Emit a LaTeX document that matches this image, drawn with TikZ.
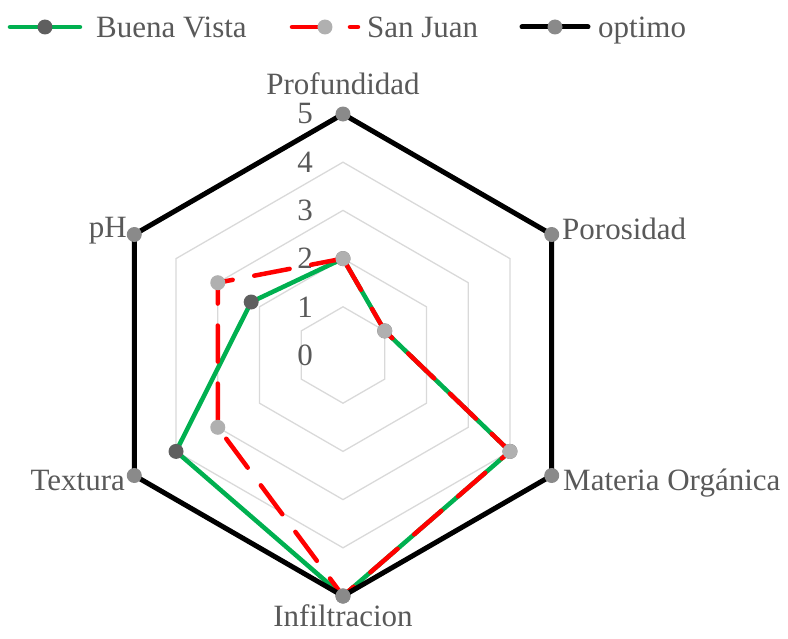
\documentclass[tikz,border=0pt]{standalone}
\usepackage{fontspec}
\setmainfont{Liberation Serif}
\usepackage{xcolor}
\usepackage{tikz}

\definecolor{bvgreen}{HTML}{00B050}
\definecolor{sjred}{HTML}{FF0000}
\definecolor{txtgray}{HTML}{595959}
\definecolor{gridgray}{HTML}{D9D9D9}
\definecolor{bvmark}{HTML}{5F5F5F}
\definecolor{sjmark}{HTML}{B0B0B0}
\definecolor{opmark}{HTML}{8A8A8A}

\begin{document}
\begin{tikzpicture}[x=1pt, y=1pt, font=\fontsize{31}{37}\selectfont,
    grid/.style={draw=gridgray, line width=1.3pt},
    axislbl/.style={text=txtgray, inner sep=0pt},
    buena/.style={draw=bvgreen, line width=4.5pt, line join=round, line cap=round},
    sanjuan/.style={draw=sjred, line width=4.5pt, dash pattern=on 36pt off 22pt, line cap=round, line join=round},
    optimo/.style={draw=black, line width=5pt, line join=round, line cap=round},
    dot/.style={circle, inner sep=0pt, minimum size=15pt, fill=#1}]
    \useasboundingbox (-343,-283) rectangle (445,355);

    % rings 1..4
    \foreach \r in {48.2,96.4,144.6,192.8}
      \draw[grid] (90:\r) -- (30:\r) -- (-30:\r) -- (-90:\r) -- (-150:\r) -- (150:\r) -- cycle;

    % scale
    \foreach \v in {0,...,5}
      \node[axislbl, anchor=east] (tick\v) at (-30,48.2*\v) {\v};

    % axis names
    \node[axislbl, anchor=base] (Prof) at (0,260.5) {Profundidad};
    \node[axislbl, anchor=base west] (Poro) at (219,116) {Porosidad};
    \node[axislbl, anchor=base west] (MatO) at (220,-135) {Materia Orgánica};
    \node[axislbl, anchor=base] (Infi) at (0,-271) {Infiltracion};
    \node[axislbl, anchor=base east] (Text) at (-218,-135) {Textura};
    \node[axislbl, anchor=base east] (pH) at (-216,118) {pH};

    % Buena Vista
    \coordinate (bv1) at (90:96.4);
    \coordinate (bv2) at (30:48.2);
    \coordinate (bv3) at (-30:192.8);
    \coordinate (bv4) at (-90:241);
    \coordinate (bv5) at (-150:192.8);
    \coordinate (bv6) at (150:106);
    \draw[buena] (bv1) -- (bv2) -- (bv3) -- (bv4) -- (bv5) -- (bv6) -- cycle;
    \foreach \i in {1,...,6}
      \node[dot=bvmark] (bvm\i) at (bv\i) {};

    % San Juan
    \coordinate (sj1) at (90:96.4);
    \coordinate (sj2) at (30:48.2);
    \coordinate (sj3) at (-30:192.8);
    \coordinate (sj4) at (-90:241);
    \coordinate (sj5) at (-150:144.6);
    \coordinate (sj6) at (150:144.6);
    \draw[sanjuan] (sj1) -- (sj2) -- (sj3) -- (sj4) -- (sj5) -- (sj6) -- cycle;
    \foreach \i in {1,...,6}
      \node[dot=sjmark] (sjm\i) at (sj\i) {};

    % optimo
    \coordinate (op1) at (90:241);
    \coordinate (op2) at (30:241);
    \coordinate (op3) at (-30:241);
    \coordinate (op4) at (-90:241);
    \coordinate (op5) at (-150:241);
    \coordinate (op6) at (150:241);
    \draw[optimo] (op1) -- (op2) -- (op3) -- (op4) -- (op5) -- (op6) -- cycle;
    \foreach \i in {1,...,6}
      \node[dot=opmark] (opm\i) at (op\i) {};

    % legend
    \coordinate (lgbvA) at (-333,328);
    \coordinate (lgbvB) at (-263,328);
    \draw[buena] (lgbvA) -- (lgbvB);
    \node[dot=bvmark] (lgbv) at (-298,328) {};
    \node[axislbl, anchor=base west] (lgbvtxt) at (-247,318) {Buena Vista};

    \coordinate (lgsjA) at (-51,328);
    \coordinate (lgsjB) at (15,328);
    \draw[sanjuan] (lgsjA) -- (lgsjB);
    \node[dot=sjmark] (lgsj) at (-18,328) {};
    \node[axislbl, anchor=base west] (lgsjtxt) at (24,318) {San Juan};

    \coordinate (lgopA) at (179,328);
    \coordinate (lgopB) at (245,328);
    \draw[optimo] (lgopA) -- (lgopB);
    \node[dot=opmark] (lgop) at (212,328) {};
    \node[axislbl, anchor=base west] (lgoptxt) at (255,318) {optimo};
\end{tikzpicture}
\end{document}
